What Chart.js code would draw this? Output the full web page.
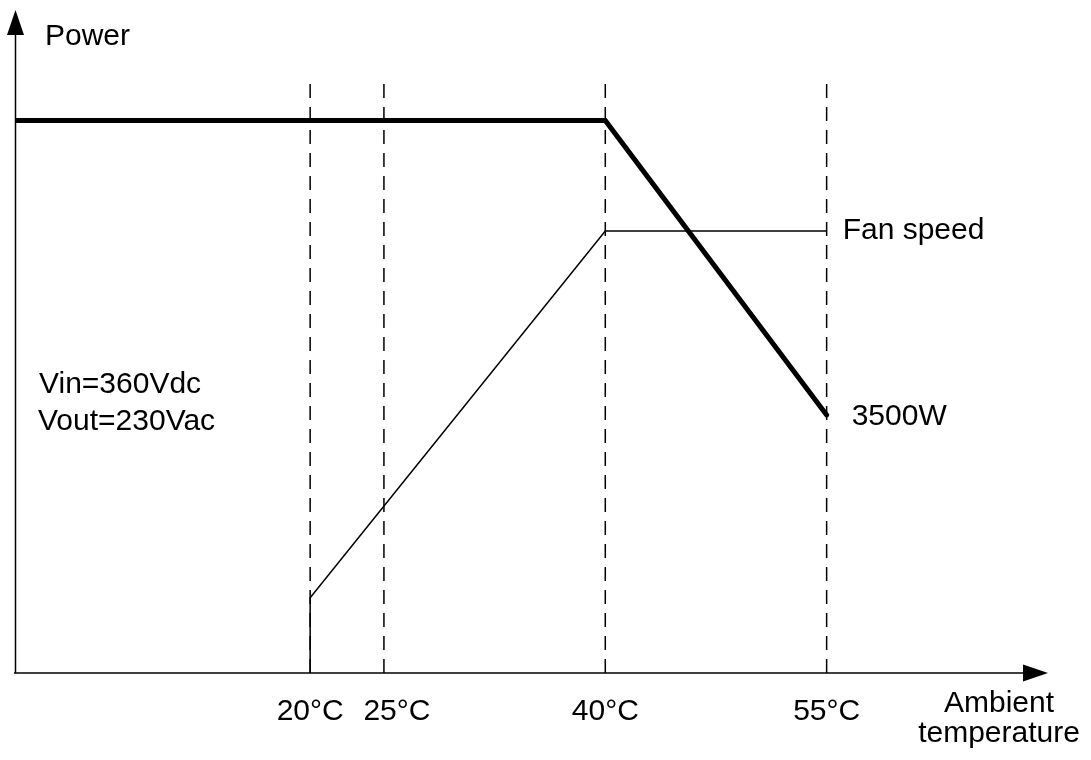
<!DOCTYPE html>
<html>
<head>
<meta charset="utf-8">
<script src="https://cdn.jsdelivr.net/npm/chart.js@4.4.1/dist/chart.umd.min.js"></script>
<style>
  html, body { margin:0; padding:0; background:#fff; }
  #wrap { width:1091px; height:760px; position:relative; }
</style>
</head>
<body>
<div id="wrap"><canvas id="c"></canvas></div>
<script>
// 溫度刻度 (°C)
const tickTemps = [20, 25, 40, 55];
const tickLabels = ['20°C', '25°C', '40°C', '55°C'];
// 功率曲線（相對單位）
const powerX = [0, 40, 55];
const powerY = [100, 100, 46.7];
// 風扇轉速曲線
const fanX = [20, 20, 40, 55];
const fanY = [0, 13.6, 80, 80];
// 虛線高度
const guideTop = 107;

const FONT = '"Liberation Sans", Arial, sans-serif';

const toPts = (xs, ys) => xs.map((x, i) => ({x, y: ys[i]}));

const guideSets = tickTemps.map(t => ({
  data: [{x: t, y: 0}, {x: t, y: guideTop}],
  borderColor: '#000', borderWidth: 1.5, borderDash: [14, 9],
  pointRadius: 0, fill: false
}));

// 軸線 + 箭頭 + 文字
const axesPlugin = {
  id: 'axesDraw',
  afterDatasetsDraw(chart){
    const {ctx, chartArea: a, scales:{x, y}} = chart;
    ctx.save();
    ctx.strokeStyle = '#000'; ctx.fillStyle = '#000'; ctx.lineWidth = 1.5;
    const ax = 15.5, ay = a.bottom;
    // y axis
    ctx.beginPath(); ctx.moveTo(ax, ay); ctx.lineTo(ax, a.top + 24); ctx.stroke();
    ctx.beginPath(); ctx.moveTo(ax, a.top); ctx.lineTo(ax - 8.5, a.top + 25); ctx.lineTo(ax + 8.5, a.top + 25); ctx.closePath(); ctx.fill();
    // x axis
    ctx.beginPath(); ctx.moveTo(14, ay); ctx.lineTo(a.right - 24, ay); ctx.stroke();
    ctx.beginPath(); ctx.moveTo(a.right, ay); ctx.lineTo(a.right - 25, ay - 8.5); ctx.lineTo(a.right - 25, ay + 8.5); ctx.closePath(); ctx.fill();

    ctx.font = '30px ' + FONT;
    ctx.textBaseline = 'alphabetic';
    // 刻度文字（25°C 在原圖稍微偏右）
    ctx.textAlign = 'center';
    tickTemps.forEach((t, i) => {
      const shift = t === 25 ? 13 : 0;
      ctx.fillText(tickLabels[i], x.getPixelForValue(t) + shift, ay + 47);
    });
    ctx.fillText('Ambient', 999, 712);
    ctx.fillText('temperature', 999, 742);

    ctx.textAlign = 'left';
    ctx.fillText('Power', 45, 45);
    ctx.fillText('Vin=360Vdc', 39, 393);
    ctx.fillText('Vout=230Vac', 38, 430);
    ctx.fillText('Fan speed', x.getPixelForValue(55) + 16, y.getPixelForValue(80) + 8);
    ctx.fillText('3500W', x.getPixelForValue(55) + 25, y.getPixelForValue(46.7) + 10);
    ctx.restore();
  }
};

new Chart(document.getElementById('c'), {
  type: 'line',
  data: {
    datasets: [
      ...guideSets,
      { data: toPts(fanX, fanY), borderColor:'#000', borderWidth:1.5, pointRadius:0, fill:false },
      { data: toPts(powerX, powerY), borderColor:'#000', borderWidth:5, borderCapStyle:'round', borderJoinStyle:'miter', pointRadius:0, fill:false }
    ]
  },
  options: {
    responsive: true,
    maintainAspectRatio: false,
    animation: false,
    layout: { padding: { left:15, top:10, right:43, bottom:0 } },
    plugins: { legend:{display:false}, tooltip:{enabled:false} },
    scales: {
      x: {
        type: 'linear', min: 0, max: 70,
        grid: { display:false }, border: { display:false },
        afterBuildTicks: s => { s.ticks = tickTemps.map(v => ({value: v})); },
        afterFit: s => { s.height = 87; },
        ticks: { display:false }
      },
      y: { type:'linear', min:0, max:120, display:false }
    }
  },
  plugins: [axesPlugin]
});
</script>
</body>
</html>
